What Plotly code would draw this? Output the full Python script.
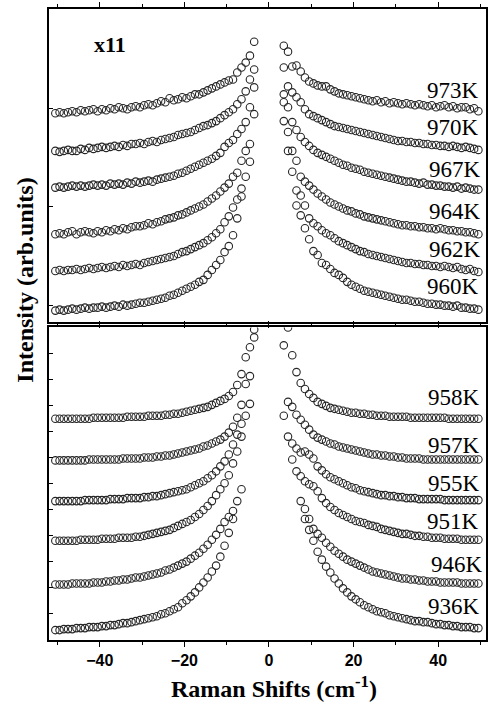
import plotly.graph_objects as go

# Raman shift grid (cm^-1)
SHIFT_LEFT = [-50.5, -49.5, -48.5, -47.5, -46.5, -45.5, -44.5, -43.5, -42.5, -41.5,
              -40.5, -39.5, -38.5, -37.5, -36.5, -35.5, -34.5, -33.5, -32.5, -31.5,
              -30.5, -29.5, -28.5, -27.5, -26.5, -25.5, -24.5, -23.5, -22.5, -21.5,
              -20.5, -19.5, -18.5, -17.5, -16.5, -15.5, -14.5, -13.5, -12.5, -11.5,
              -10.5, -9.5, -8.5, -7.5, -6.5, -5.5, -4.5, -3.5]
SHIFT_RIGHT = [3.5, 4.5, 5.5, 6.5, 7.5, 8.5, 9.5, 10.5, 11.5, 12.5,
               13.5, 14.5, 15.5, 16.5, 17.5, 18.5, 19.5, 20.5, 21.5, 22.5,
               23.5, 24.5, 25.5, 26.5, 27.5, 28.5, 29.5, 30.5, 31.5, 32.5,
               33.5, 34.5, 35.5, 36.5, 37.5, 38.5, 39.5, 40.5, 41.5, 42.5,
               43.5, 44.5, 45.5, 46.5, 47.5, 48.5, 49.5]
N = None

# ---------------- upper panel (x11), stacked intensities (arb. units) ----------------
T973_L = [210, 211, 210, 211, 212, 211, 213, 212, 213, 214,
          212, 214, 213, 215, 214, 216, 215, 214, 216, 217,
          216, 218, 219, 218, 220, 222, 221, 225, 223, 224,
          226, 225, 227, 229, 229, 231, 233, 235, 237, 239,
          241, 243, 244, 251, 256, 261, 268, 282]
T973_R = [278, 272, 257, 258, 252, 246, 242, 240, 238, 237,
          237, 234, 232, 230, 229, 228, 227, 226, 225, 224,
          223, 222, 223, 221, 222, 220, 221, 220, 219, 220,
          219, 218, 219, 218, 217, 218, 216, 217, 218, 216,
          217, 215, 216, 216, 214, 215, 212]
T970_L = [172, 171, 172, 173, 172, 172, 174, 173, 175, 174,
          175, 176, 175, 176, 177, 176, 178, 177, 179, 179,
          180, 179, 181, 182, 181, 183, 184, 185, 186, 188,
          189, 190, 191, 193, 195, 197, 198, 200, 202, 205,
          208, 211, 214, 219, 224, 232, 244, 254]
T970_R = [256, 237, 231, 226, 221, 214, 209, 207, 205, 203,
          201, 199, 197, 196, 195, 194, 193, 192, 191, 190,
          189, 188, 187, 186, 185, 184, 183, 182, 182, 181,
          181, 180, 180, 179, 179, 178, 178, 177, 177, 176,
          177, 176, 175, 176, 175, 174, 173]
T967_L = [135, 136, 135, 136, 137, 136, 137, 136, 137, 138,
          137, 138, 137, 139, 138, 139, 138, 140, 139, 141,
          140, 141, 142, 141, 143, 144, 145, 146, 147, 149,
          150, 152, 154, 156, 158, 160, 162, 164, 167, 170,
          176, 180, 183, 189, 194, 201, 216, 236]
T967_R = [229, 216, 201, 193, 186, 181, 177, 173, 170, 168,
          166, 164, 162, 160, 158, 157, 155, 154, 153, 151,
          150, 149, 148, 147, 146, 145, 144, 143, 142, 141,
          141, 140, 139, 140, 138, 138, 137, 137, 136, 136,
          135, 136, 134, 135, 134, 133, 133]
T964_L = [88, 89, 88, 90, 91, 88, 90, 91, 90, 89,
          91, 90, 92, 91, 93, 92, 94, 93, 95, 96,
          96, 97, 99, 98, 100, 101, 103, 104, 105, 107,
          108, 110, 112, 114, 116, 118, 121, 124, 127, 131,
          135, 139, 146, 150, 162, 172, 179, 209]
T964_R = [221, 191, 172, 162, 146, 141, 137, 133, 129, 126,
          123, 120, 118, 116, 114, 112, 111, 109, 108, 106,
          105, 104, 103, 102, 101, 100, 99, 98, 97, 97,
          96, 96, 95, 95, 94, 94, 93, 94, 93, 92,
          92, 91, 91, 90, 90, 89, 88]
T962_L = [51, 52, 51, 52, 52, 53, 52, 53, 54, 53,
          54, 55, 54, 55, 56, 55, 57, 56, 57, 58,
          57, 59, 60, 61, 62, 63, 64, 65, 66, 68,
          70, 71, 73, 75, 77, 79, 82, 85, 89, 93,
          100, 106, 115, 123, 134, 146, 161, N]
T962_R = [202, 172, 151, 132, 127, 117, 104, 99, 96, 92,
          89, 87, 84, 81, 79, 77, 75, 73, 71, 70,
          68, 67, 66, 65, 64, 63, 62, 61, 60, 59,
          59, 58, 58, 57, 57, 56, 56, 55, 56, 55,
          54, 55, 53, 52, 53, 51, 50]
T960_L = [11, 12, 11, 12, 13, 12, 13, 14, 13, 14,
          14, 15, 14, 15, 16, 15, 17, 16, 17, 18,
          19, 19, 20, 21, 22, 23, 24, 26, 27, 29,
          31, 33, 35, 37, 40, 42, 47, 52, 57, 62,
          70, 76, 87, 104, 126, N, N, N]
T960_R = [N, N, N, 117, 107, 94, 83, 71, 67, 59,
          57, 53, 49, 47, 44, 40, 37, 35, 33, 31,
          30, 29, 28, 27, 26, 25, 24, 23, 22, 22,
          21, 20, 20, 19, 18, 18, 17, 17, 16, 16,
          15, 16, 14, 14, 13, 13, 12]

# ---------------- lower panel, stacked intensities (arb. units) ----------------
B958_L = [223, 223, 223, 223, 223, 223, 223, 223, 223, 224,
          224, 224, 224, 224, 224, 224, 224, 225, 225, 225,
          225, 225, 226, 226, 226, 226, 227, 227, 228, 228,
          229, 230, 231, 232, 233, 234, 235, 237, 239, 241,
          243, 246, 250, 257, 268, 285, 295, 305]
B958_R = [297, 315, 287, 270, 259, 253, 248, 244, 240, 238,
          236, 234, 233, 232, 231, 230, 229, 229, 228, 228,
          227, 227, 226, 226, 226, 225, 225, 225, 225, 225,
          224, 224, 224, 224, 224, 224, 224, 224, 224, 223,
          223, 223, 223, 223, 223, 223, 223]
B957_L = [181, 181, 181, 181, 181, 181, 181, 181, 182, 182,
          182, 182, 182, 182, 182, 182, 183, 183, 183, 183,
          183, 184, 184, 184, 185, 185, 186, 186, 187, 188,
          189, 190, 191, 192, 193, 195, 196, 198, 200, 202,
          205, 209, 215, 224, 237, 258, 266, 313]
B957_R = [226, 240, 235, 227, 222, 217, 212, 207, 204, 202,
          200, 198, 197, 195, 194, 193, 192, 191, 190, 189,
          188, 187, 187, 186, 186, 185, 185, 184, 184, 183,
          183, 183, 183, 182, 182, 182, 182, 182, 182, 182,
          182, 182, 182, 182, 182, 182, 182]
B955_L = [140, 140, 140, 140, 140, 140, 140, 141, 141, 141,
          141, 141, 141, 142, 142, 142, 142, 143, 143, 143,
          143, 144, 144, 145, 145, 146, 147, 148, 149, 150,
          151, 152, 154, 156, 158, 160, 163, 166, 170, 175,
          180, 187, 197, 207, 218, 226, 238, N]
B955_R = [N, 205, 198, 193, 189, 190, 187, 183, 175, 171,
          167, 164, 162, 160, 158, 156, 154, 153, 151, 150,
          149, 148, 147, 146, 146, 145, 145, 144, 144, 143,
          143, 143, 142, 142, 142, 142, 142, 142, 141, 141,
          141, 141, 141, 141, 141, 141, 141]
B951_L = [100, 100, 100, 100, 100, 100, 101, 101, 101, 101,
          101, 102, 102, 102, 102, 103, 103, 103, 103, 104,
          104, 105, 106, 107, 108, 109, 110, 111, 113, 115,
          117, 119, 121, 124, 127, 131, 135, 140, 146, 152,
          158, 166, 178, 190, 205, N, N, N]
B951_R = [N, N, 182, 170, 165, 160, 157, 155, 150, 143,
          138, 134, 131, 128, 126, 124, 122, 120, 119, 118,
          116, 115, 114, 112, 111, 110, 109, 108, 107, 107,
          106, 105, 105, 104, 104, 103, 103, 103, 102, 102,
          102, 102, 101, 101, 101, 101, 101]
B946_L = [56, 56, 56, 56, 57, 57, 57, 57, 57, 58,
          58, 58, 59, 59, 60, 60, 61, 61, 62, 63,
          63, 64, 65, 66, 67, 68, 70, 71, 73, 75,
          77, 79, 82, 85, 88, 92, 96, 101, 106, 112,
          119, 124, 130, 140, 152, N, N, N]
B946_R = [N, N, N, N, 140, 132, 122, 112, 107, 103,
          98, 94, 90, 87, 84, 81, 79, 77, 75, 73,
          71, 69, 68, 67, 66, 65, 64, 63, 62, 62,
          61, 61, 60, 60, 59, 59, 59, 58, 58, 58,
          58, 58, 57, 57, 57, 57, 57]
B936_L = [10, 10, 11, 11, 11, 12, 12, 12, 13, 13,
          13, 14, 14, 15, 15, 16, 17, 17, 18, 19,
          20, 21, 22, 23, 24, 26, 27, 29, 31, 33,
          37, 40, 44, 48, 53, 58, 63, 69, 75, 84,
          95, 108, 122, N, N, N, N, N]
B936_R = [N, N, N, N, N, 122, 111, 100, 89, 81,
          74, 68, 62, 57, 52, 48, 44, 41, 38, 35,
          33, 31, 29, 28, 27, 25, 24, 23, 22, 21,
          20, 19, 19, 18, 18, 17, 16, 16, 15, 15,
          14, 14, 13, 13, 13, 12, 12]

TOP_LABELS = ["973K", "970K", "967K", "964K", "962K", "960K"]
TOP_SERIES = [(T973_L, T973_R), (T970_L, T970_R), (T967_L, T967_R),
              (T964_L, T964_R), (T962_L, T962_R), (T960_L, T960_R)]
TOP_LABEL_Y = [233, 196, 153, 111, 73, 35]
TOP_LABEL_X = [50.0, 50.0, 50.6, 50.6, 50.6, 50.0]

BOTTOM_LABELS = ["958K", "957K", "955K", "951K", "946K", "936K"]
BOTTOM_SERIES = [(B958_L, B958_R), (B957_L, B957_R), (B955_L, B955_R),
                 (B951_L, B951_R), (B946_L, B946_R), (B936_L, B936_R)]
BOTTOM_LABEL_Y = [244, 196, 158, 119, 76, 34]
BOTTOM_LABEL_X = [50.3, 50.3, 50.3, 50.0, 51.0, 50.3]

SERIF = "Liberation Serif"
SANS = "Liberation Sans"
MARK = dict(symbol="circle-open", size=7.5, color="#262626", line=dict(width=1.1))

fig = go.Figure()
for (lv, rv) in TOP_SERIES:
    fig.add_trace(go.Scatter(x=SHIFT_LEFT + SHIFT_RIGHT, y=lv + rv, mode="markers",
                             marker=MARK, xaxis="x2", yaxis="y2", showlegend=False))
for (lv, rv) in BOTTOM_SERIES:
    fig.add_trace(go.Scatter(x=SHIFT_LEFT + SHIFT_RIGHT, y=lv + rv, mode="markers",
                             marker=MARK, xaxis="x", yaxis="y", showlegend=False))

annotations = []
for lab, yy, xx in zip(TOP_LABELS, TOP_LABEL_Y, TOP_LABEL_X):
    annotations.append(dict(x=xx, y=yy, xref="x2", yref="y2", text=lab, showarrow=False,
                            xanchor="right", yanchor="middle",
                            font=dict(family=SERIF, size=23, color="black")))
for lab, yy, xx in zip(BOTTOM_LABELS, BOTTOM_LABEL_Y, BOTTOM_LABEL_X):
    annotations.append(dict(x=xx, y=yy, xref="x", yref="y", text=lab, showarrow=False,
                            xanchor="right", yanchor="middle",
                            font=dict(family=SERIF, size=23, color="black")))
annotations.append(dict(x=-37.6, y=279, xref="x2", yref="y2", text="<b>x11</b>",
                        showarrow=False, xanchor="center", yanchor="middle",
                        font=dict(family=SERIF, size=22, color="black")))
annotations.append(dict(x=-0.055, y=0.571, xref="paper", yref="paper",
                        text="<b>Intensity (arb.units)</b>", textangle=-90,
                        showarrow=False, xanchor="center", yanchor="middle",
                        font=dict(family=SERIF, size=24, color="black")))
annotations.append(dict(x=0.515, y=-0.074, xref="paper", yref="paper",
                        text="<b>Raman Shifts (cm<sup>-1</sup>)</b>",
                        showarrow=False, xanchor="center", yanchor="middle",
                        font=dict(family=SERIF, size=24, color="black")))

xcommon = dict(range=[-52, 51.3], showgrid=False, zeroline=False, showline=True,
               linecolor="black", linewidth=1.5, mirror="ticks",
               tickvals=[-40, -20, 0, 20, 40], ticks="outside", ticklen=5,
               tickwidth=1.2, tickcolor="black",
               minor=dict(tickvals=[-50, -30, -10, 10, 30, 50], ticks="outside",
                          ticklen=3, tickwidth=1.2, tickcolor="black"))
ycommon = dict(range=[0, 315], showgrid=False, zeroline=False, showline=True,
               linecolor="black", linewidth=1.5, mirror=True, ticks="inside",
               ticklen=4, tickwidth=1.2, tickcolor="black", showticklabels=False)

fig.update_layout(
    width=490, height=704,
    margin=dict(l=49, r=2, t=4, b=64),
    paper_bgcolor="white", plot_bgcolor="white",
    xaxis=dict(**xcommon, anchor="y", domain=[0, 1], showticklabels=True,
               tickfont=dict(family=SANS, size=16, color="black", weight="bold")),
    xaxis2=dict(**xcommon, anchor="y2", domain=[0, 1], showticklabels=False,
                matches="x"),
    yaxis=dict(**ycommon, anchor="x", domain=[0, 0.4953], tick0=27, dtick=26.2),
    yaxis2=dict(**ycommon, anchor="x2", domain=[0.5047, 1],
                tickvals=[16, 116, 215]),
    annotations=annotations,
)

fig.write_html(
    "out.html",
    config={"displayModeBar": False},
    post_script="document.body.style.margin='0px';document.body.style.padding='0px';"
                "document.body.style.overflow='hidden';",
)
